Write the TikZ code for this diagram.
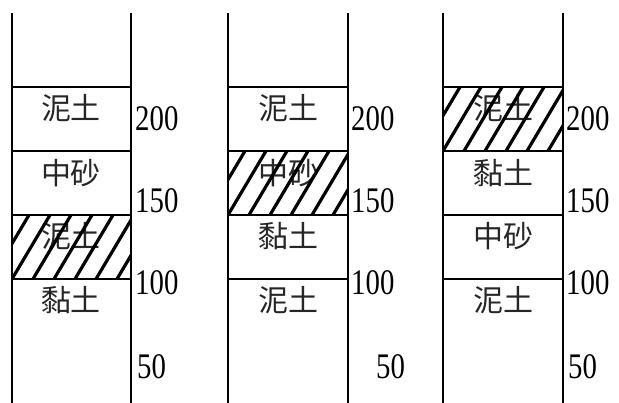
\documentclass[tikz,border=0pt]{standalone}
\usepackage{fontspec}
\setmainfont{Liberation Serif}
\newfontfamily\numfont[FakeStretch=0.8]{Liberation Serif}
\newfontfamily\cjk{Noto Sans CJK TC}
\begin{document}
\begin{tikzpicture}[x=1pt,y=-1pt,
  wall/.style={line width=2.9pt},
  hatchline/.style={line width=3.2pt},
  soil/.style={font=\cjk\fontsize{30}{30}\selectfont, inner sep=0pt, text=black!85},
  num/.style={font=\numfont\fontsize{36}{36}\selectfont, inner sep=0pt, anchor=west}]
\useasboundingbox (0,0) rectangle (619,403);
% columns: left, right
\foreach \L/\R in {12/131, 228/348, 443/563}{
  \draw[wall] (\L,13) -- (\L,403);
  \draw[wall] (\R,13) -- (\R,403);
  \foreach \y in {87,151,215,279}{
    \draw[wall] (\L,\y) -- (\R,\y);
  }
}
% column 1 labels
\node[soil] (a1) at (71,108) {泥土};
\node[soil] (a2) at (71,173) {中砂};
\node[soil] (a3) at (71,236) {泥土};
\node[soil] (a4) at (71,300) {黏土};
% column 2 labels
\node[soil] (b1) at (288,108) {泥土};
\node[soil] (b2) at (288,173) {中砂};
\node[soil] (b3) at (288,236) {黏土};
\node[soil] (b4) at (288,300) {泥土};
% column 3 labels
\node[soil] (c1) at (503,108) {泥土};
\node[soil] (c2) at (503,173) {黏土};
\node[soil] (c3) at (503,236) {中砂};
\node[soil] (c4) at (503,300) {泥土};
% numbers
\node[num] (n1a) at (135,119) {200};
\node[num] (n1b) at (135,201) {150};
\node[num] (n1c) at (135,283) {100};
\node[num] (n1d) at (137,367) {50};
\node[num] (n2a) at (351,119) {200};
\node[num] (n2b) at (351,201) {150};
\node[num] (n2c) at (351,283) {100};
\node[num] (n2d) at (376,367) {50};
\node[num] (n3a) at (566,119) {200};
\node[num] (n3b) at (566,201) {150};
\node[num] (n3c) at (566,283) {100};
\node[num] (n3d) at (568,367) {50};
% hatching
\foreach \L/\R/\T/\B in {12/131/215/279, 228/348/151/215, 443/563/87/151}{
  \begin{scope}
    \clip (\L,\T) rectangle (\R,\B);
    \foreach \i in {-3,...,7}{
      \draw[hatchline] (\L+\i*21,\B) -- ++(38,-64);
    }
  \end{scope}
  \draw[wall] (\L,\T) rectangle (\R,\B);
}
\end{tikzpicture}
\end{document}
